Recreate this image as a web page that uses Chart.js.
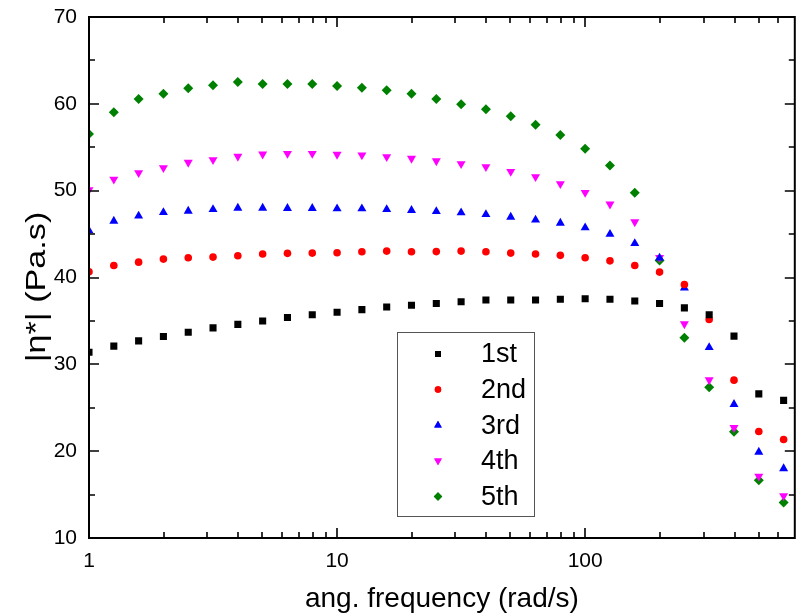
<!DOCTYPE html>
<html>
<head>
<meta charset="utf-8">
<script src="https://cdn.jsdelivr.net/npm/chart.js@4.4.1/dist/chart.umd.min.js"></script>
<style>
  html, body { margin: 0; padding: 0; background: #fff; }
  #wrap { width: 800px; height: 616px; }
</style>
</head>
<body>
<div id="wrap"><canvas id="c" width="800" height="616"></canvas></div>
<script>
// angular frequency (rad/s)
const freq = [1, 1.259, 1.585, 1.995, 2.512, 3.162, 3.981, 5.012, 6.31, 7.943,
  10, 12.59, 15.85, 19.95, 25.12, 31.62, 39.81, 50.12, 63.1, 79.43,
  100, 125.9, 158.5, 199.5, 251.2, 316.2, 398.1, 501.2, 631];

const run1 = [31.4, 32.1, 32.7, 33.2, 33.7, 34.2, 34.6, 35.0, 35.4, 35.7,
  36.0, 36.3, 36.6, 36.8, 37.0, 37.2, 37.4, 37.4, 37.4, 37.5,
  37.55, 37.5, 37.3, 37.0, 36.5, 35.7, 33.25, 26.6, 25.85];
const run2 = [40.66, 41.39, 41.77, 42.12, 42.27, 42.35, 42.5, 42.7, 42.78, 42.81,
  42.85, 42.96, 43.04, 42.96, 42.98, 43.04, 42.96, 42.81, 42.7, 42.55,
  42.27, 41.92, 41.39, 40.62, 39.2, 35.17, 28.18, 22.27, 21.35];
const run3 = [45.4, 46.5, 47.1, 47.5, 47.65, 47.85, 48.0, 48.0, 47.97, 47.97,
  47.92, 47.92, 47.85, 47.74, 47.6, 47.46, 47.27, 46.96, 46.62, 46.27,
  45.73, 45.0, 43.93, 42.25, 38.8, 31.95, 25.4, 19.9, 18.0];
const run4 = [50.1, 51.3, 52.05, 52.62, 53.25, 53.55, 53.94, 54.2, 54.28, 54.28,
  54.17, 54.09, 53.89, 53.71, 53.42, 53.08, 52.74, 52.2, 51.59, 50.78,
  49.79, 48.44, 46.4, 42.3, 34.65, 28.2, 22.7, 17.1, 14.84];
const run5 = [56.52, 59.02, 60.55, 61.16, 61.79, 62.13, 62.51, 62.28, 62.28, 62.28,
  62.05, 61.85, 61.55, 61.16, 60.55, 59.94, 59.37, 58.56, 57.59, 56.41,
  54.83, 52.91, 49.76, 41.97, 33.05, 27.37, 22.23, 16.66, 14.09];

const seriesNames = ['1st', '2nd', '3rd', '4th', '5th'];
const xTickValues = [1, 10, 100];
const xMinorTicks = [2,3,4,5,6,7,8,9,20,30,40,50,60,70,80,90,200,300,400,500,600];
const yTickValues = [10, 20, 30, 40, 50, 60, 70];
const yMinorTicks = [15, 25, 35, 45, 55, 65];
const yTitle = '|η*| (Pa.s)';
const xTitle = 'ang. frequency (rad/s)';

const FONT = '"Liberation Sans", Arial, Helvetica, sans-serif';

const styles = [
  { color: '#000000', pointStyle: 'rect', radius: 5, rotation: 0 },
  { color: '#ff0000', pointStyle: 'circle', radius: 3.8, rotation: 0 },
  { color: '#0000ff', pointStyle: 'triangle', radius: 5.2, rotation: 0 },
  { color: '#ff00ff', pointStyle: 'triangle', radius: 5.2, rotation: 180 },
  { color: '#008000', pointStyle: 'rectRot', radius: 5, rotation: 0 }
];
const allRuns = [run1, run2, run3, run4, run5];

const datasets = allRuns.map((run, i) => ({
  label: seriesNames[i],
  data: freq.map((f, j) => ({ x: f, y: run[j] })),
  showLine: false,
  pointStyle: styles[i].pointStyle,
  pointRadius: styles[i].radius,
  pointHoverRadius: styles[i].radius,
  pointRotation: styles[i].rotation,
  backgroundColor: styles[i].color,
  borderColor: styles[i].color,
  pointBorderWidth: 0,
  clip: 0
}));

function drawMarker(ctx, style, radius, x, y, rotation) {
  if (Chart.helpers && Chart.helpers.drawPoint) {
    Chart.helpers.drawPoint(ctx, { pointStyle: style, radius: radius, rotation: rotation, borderWidth: 0 }, x, y);
    ctx.fill();
  }
}

const framePlugin = {
  id: 'frame',
  afterDraw(chart) {
    const ctx = chart.ctx;
    const a = chart.chartArea;
    const xs = chart.scales.x, ys = chart.scales.y;
    ctx.save();
    ctx.strokeStyle = '#000';
    ctx.lineWidth = 2;
    ctx.beginPath();
    ctx.rect(a.left, a.top, a.right - a.left, a.bottom - a.top);
    ctx.stroke();
    ctx.lineWidth = 1.6;
    ctx.beginPath();
    const major = 10, minor = 6;
    xTickValues.forEach(v => {
      const px = Math.round(xs.getPixelForValue(v));
      ctx.moveTo(px, a.bottom); ctx.lineTo(px, a.bottom - major);
      ctx.moveTo(px, a.top); ctx.lineTo(px, a.top + major);
    });
    xMinorTicks.forEach(v => {
      const px = Math.round(xs.getPixelForValue(v));
      ctx.moveTo(px, a.bottom); ctx.lineTo(px, a.bottom - minor);
      ctx.moveTo(px, a.top); ctx.lineTo(px, a.top + minor);
    });
    yTickValues.forEach(v => {
      const py = Math.round(ys.getPixelForValue(v));
      ctx.moveTo(a.left, py); ctx.lineTo(a.left + major, py);
      ctx.moveTo(a.right, py); ctx.lineTo(a.right - major, py);
    });
    yMinorTicks.forEach(v => {
      const py = Math.round(ys.getPixelForValue(v));
      ctx.moveTo(a.left, py); ctx.lineTo(a.left + minor, py);
      ctx.moveTo(a.right, py); ctx.lineTo(a.right - minor, py);
    });
    ctx.stroke();

    // y-axis title
    ctx.save();
    ctx.translate(37, 287);
    ctx.rotate(-Math.PI / 2);
    ctx.scale(1.22, 1);
    ctx.fillStyle = '#000';
    ctx.font = '28px ' + FONT;
    ctx.textAlign = 'center';
    ctx.textBaseline = 'middle';
    ctx.fillText(yTitle, 0, 0);
    ctx.restore();

    // legend box
    const lx = 397, ly = 332, lw = 137, lh = 184;
    ctx.lineWidth = 1;
    ctx.strokeStyle = '#555555';
    ctx.strokeRect(lx + 0.5, ly + 0.5, lw, lh);
    ctx.font = '27px ' + FONT;
    ctx.textBaseline = 'middle';
    ctx.textAlign = 'left';
    chart.data.datasets.forEach((ds, i) => {
      const cy = 354 + i * 35.6;
      ctx.fillStyle = styles[i].color;
      drawMarker(ctx, styles[i].pointStyle, styles[i].radius * 0.85, 438, cy, styles[i].rotation);
      ctx.fillStyle = '#000';
      ctx.fillText(ds.label, 481, cy + 1);
    });
    ctx.restore();
  }
};

new Chart(document.getElementById('c'), {
  type: 'scatter',
  data: { datasets },
  plugins: [framePlugin],
  options: {
    responsive: false,
    animation: false,
    events: [],
    layout: { padding: { left: 0, top: 17, right: 4, bottom: 0 } },
    plugins: { legend: { display: false }, tooltip: { enabled: false } },
    scales: {
      x: {
        type: 'logarithmic',
        min: 1,
        max: 700,
        afterBuildTicks(scale) { scale.ticks = xTickValues.map(v => ({ value: v, major: true })); },
        afterFit(scale) { scale.height = 78; scale.paddingLeft = 0; scale.paddingRight = 0; },
        grid: { display: false, drawTicks: false },
        border: { display: false },
        ticks: {
          autoSkip: false, maxRotation: 0, padding: 11,
          color: '#000', font: { family: FONT, size: 21 },
          callback: v => String(v)
        },
        title: {
          display: true, text: xTitle, color: '#000',
          font: { family: FONT, size: 28 }, padding: { top: 0, bottom: 0 }
        }
      },
      y: {
        type: 'linear',
        min: 10,
        max: 70,
        afterBuildTicks(scale) { scale.ticks = yTickValues.map(v => ({ value: v })); },
        afterFit(scale) { scale.width = 89; scale.paddingTop = 0; scale.paddingBottom = 0; },
        grid: { display: false, drawTicks: false },
        border: { display: false },
        ticks: {
          padding: 12, color: '#000', font: { family: FONT, size: 21 }
        },
        title: { display: false }
      }
    }
  }
});
</script>
</body>
</html>
